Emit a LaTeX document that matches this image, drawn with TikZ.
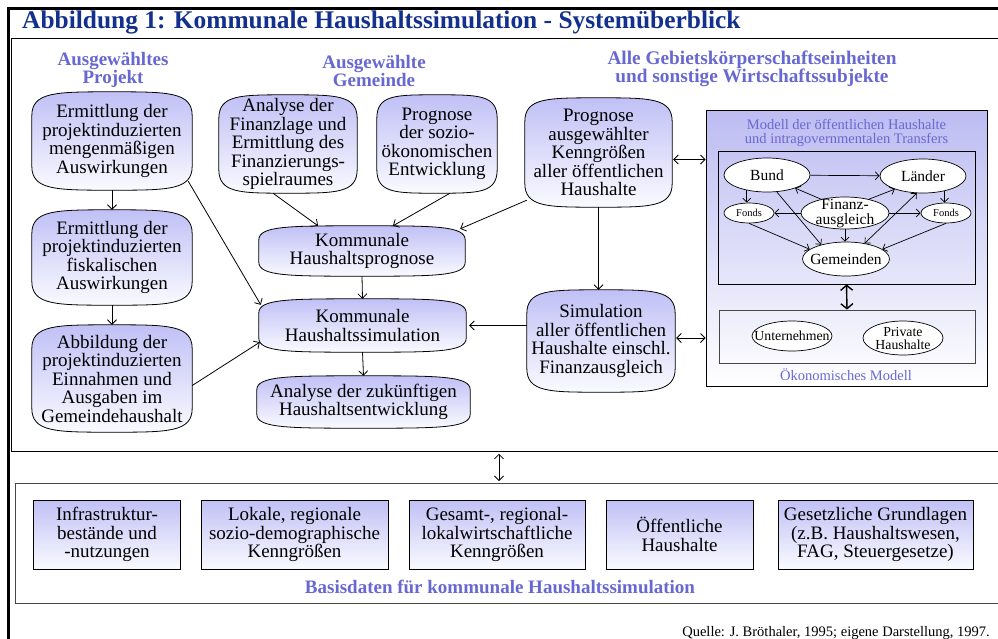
\documentclass[tikz,border=0pt]{standalone}
\usepackage{fontspec}
\setmainfont{Liberation Serif}
\usetikzlibrary{arrows.meta,shapes.geometric,calc}
\pgfdeclarelayer{background}
\pgfdeclarelayer{paper}
\pgfsetlayers{paper,background,main}
\definecolor{titleblue}{RGB}{18,48,140}
\definecolor{headblue}{RGB}{104,104,210}
\definecolor{nodetop}{RGB}{192,192,246}
\definecolor{nodebot}{RGB}{250,250,255}
\definecolor{modeltop}{RGB}{188,188,242}
\definecolor{framegrey}{RGB}{70,70,70}
\newcommand\fsz[2]{\fontsize{#1}{#2}\selectfont}
\newcommand\tapebg[2][24]{%
  \begin{pgfonlayer}{background}
  \path[tapefill] let \p1=(#2.north west), \p2=(#2.south east) in
   (\x1,\y1-#1pt) .. controls (\x1,\y1) and (0.85*\x1+0.15*\x2,\y1) .. (0.5*\x1+0.5*\x2,\y1)
   .. controls (0.15*\x1+0.85*\x2,\y1) and (\x2,\y1) .. (\x2,\y1-#1pt)
   -- (\x2,\y2+#1pt) .. controls (\x2,\y2) and (0.15*\x1+0.85*\x2,\y2) .. (0.5*\x1+0.5*\x2,\y2)
   .. controls (0.85*\x1+0.15*\x2,\y2) and (\x1,\y2) .. (\x1,\y2+#1pt) -- cycle;
  \end{pgfonlayer}}
\begin{document}
\begin{tikzpicture}[x=1pt,y=-1pt,
  txt/.style={inner sep=0pt, align=center},
  tape/.style={inner sep=0pt, align=center, font=\fsz{19}{18.5}},
  tapefill/.style={draw, line width=0.8pt, top color=nodetop, bottom color=nodebot},
  rbox/.style={draw, line width=0.8pt, top color=nodetop, bottom color=nodebot, inner sep=0pt, align=center, font=\fsz{19}{18.5}},
  ell/.style={draw, ellipse, fill=white, inner sep=0pt, line width=0.7pt},
  arr/.style={-{Straight Barb[length=4.5pt,width=9pt]}, line width=0.8pt},
  darr/.style={{Straight Barb[length=4.5pt,width=9pt]}-{Straight Barb[length=4.5pt,width=9pt]}, line width=0.8pt},
  sarr/.style={-{Straight Barb[length=4pt,width=8pt]}, line width=0.7pt},
  sdarr/.style={{Straight Barb[length=4pt,width=8pt]}-{Straight Barb[length=4pt,width=8pt]}, line width=0.7pt}]
\begin{pgfonlayer}{paper}
\fill[white] (0,0) rectangle (998,638);
\end{pgfonlayer}
\useasboundingbox (0,0) rectangle (998,638);

% frames
\node[draw=black, line width=1.3pt, minimum width=1000pt, minimum height=413pt, anchor=north west, inner sep=0pt] (frame) at (11,37.5) {};
\node[draw=framegrey, line width=1.3pt, minimum width=1000pt, minimum height=120pt, anchor=north west, inner sep=0pt] (basis) at (15,483) {};
\draw[line width=3pt] (8,645) -- (8,8) -- (1005,8);

% title and headings
\node[anchor=base west, inner sep=0pt, font=\fsz{25.4}{25}\bfseries, text=titleblue] (title) at (22,28) {Abbildung 1: Kommunale Haushaltssimulation - Systemüberblick};
\node[txt, font=\fsz{19}{18}\bfseries, text=headblue] (hP) at (113,69.5) {Ausgewähltes\\Projekt};
\node[txt, font=\fsz{19}{18}\bfseries, text=headblue] (hG) at (374,70.5) {Ausgewählte\\Gemeinde};
\node[txt, font=\fsz{19.3}{18}\bfseries, text=headblue] (hA) at (752,69) {Alle Gebietskörperschaftseinheiten\\und sonstige Wirtschaftssubjekte};

% left column
\node[tape, minimum width=160pt, minimum height=98pt] (A1) at (112,141) {Ermittlung der\\projektinduzierten\\mengenmäßigen\\Auswirkungen};
\node[tape, minimum width=160pt, minimum height=95pt] (A2) at (112,257.5) {Ermittlung der\\projektinduzierten\\fiskalischen\\Auswirkungen};
\node[tape, minimum width=160pt, minimum height=107pt] (A3) at (112,378.5) {Abbildung der\\projektinduzierten\\Einnahmen und\\Ausgaben im\\Gemeindehaushalt};
% middle
\node[tape, minimum width=138pt, minimum height=98pt] (B1) at (288,144) {Analyse der\\Finanzlage und\\Ermittlung des\\Finanzierungs-\\spielraumes};
\node[tape, minimum width=120pt, minimum height=98pt] (B2) at (437,144) {Prognose\\der sozio-\\ökonomischen\\Entwicklung};
\node[tape, minimum width=206pt, minimum height=50pt] (K1) at (362,251) {Kommunale\\Haushaltsprognose};
\node[tape, minimum width=207pt, minimum height=53pt] (K2) at (362.5,325.5) {Kommunale\\Haushaltssimulation};
\node[tape, minimum width=213pt, minimum height=52pt] (K3) at (363.5,402) {Analyse der zukünftigen\\Haushaltsentwicklung};
% right
\node[tape, minimum width=147pt, minimum height=109pt] (C1) at (598.5,152.5) {Prognose\\ausgewählter\\Kenngrößen\\aller öffentlichen\\Haushalte};
\node[tape, minimum width=148pt, minimum height=102pt] (C2) at (601,341) {Simulation\\aller öffentlichen\\Haushalte einschl.\\Finanzausgleich};

\tapebg{A1}\tapebg{A2}\tapebg{A3}\tapebg{B1}\tapebg{B2}\tapebg{C1}\tapebg{C2}
\tapebg[14]{K1}\tapebg[14]{K2}\tapebg[14]{K3}

% model box
\node[draw, line width=0.9pt, top color=modeltop, bottom color=white, minimum width=281pt, minimum height=276pt, inner sep=0pt] (model) at (846.5,248) {};
\node[txt, font=\fsz{14.5}{14.5}, text=headblue] (mtitle) at (846.5,133) {Modell der öffentlichen Haushalte\\und intragovernmentalen Transfers};
\node[draw, line width=0.8pt, minimum width=257pt, minimum height=133pt, inner sep=0pt] (gov) at (846.5,217.5) {};
\node[draw=framegrey, line width=0.8pt, minimum width=256pt, minimum height=53pt, inner sep=0pt] (eco) at (847,336.5) {};
\node[txt, font=\fsz{14.5}{14.5}, text=headblue] (etitle) at (846,375) {Ökonomisches Modell};

\node[ell, minimum width=86pt, minimum height=34pt] (Bund) at (767,175) {};
\node[txt, font=\fsz{15.5}{15}] (Bundt) at (Bund) {Bund};
\node[ell, minimum width=86pt, minimum height=34pt] (Laender) at (923,176) {};
\node[txt, font=\fsz{15.5}{15}] (Laendert) at (Laender) {Länder};
\node[ell, minimum width=50pt, minimum height=20pt] (FondsL) at (749,213) {};
\node[txt, font=\fsz{10.5}{10}] (FondsLt) at (FondsL) {Fonds};
\node[ell, minimum width=50pt, minimum height=20pt] (FondsR) at (946,213) {};
\node[txt, font=\fsz{10.5}{10}] (FondsRt) at (FondsR) {Fonds};
\node[ell, minimum width=88pt, minimum height=32pt] (FA) at (845,213) {};
\node[txt, font=\fsz{15.5}{15}] (FAt) at (845,214) {Finanz-\\ausgleich};
\node[ell, minimum width=87pt, minimum height=34pt] (Gem) at (846,259) {};
\node[txt, font=\fsz{15.5}{15}] (Gemt) at (Gem) {Gemeinden};
\node[ell, minimum width=80pt, minimum height=30pt] (Unt) at (792,336) {};
\node[txt, font=\fsz{13.8}{13}] (Untt) at (Unt) {Unternehmen};
\node[ell, minimum width=80pt, minimum height=34pt] (Priv) at (903,338) {};
\node[txt, font=\fsz{13.8}{13}] (Privt) at (Priv) {Private\\Haushalte};

% model arrows
\draw[sarr] (Bund) -- (Laender);
\draw[sarr] (Bund.-143) -- (Bund.-143 |- FondsL.north);
\draw[sarr] (Laender.-35) -- (Laender.-35 |- FondsR.north);
\draw[sarr] (Bund.-60) -- (Gem.150);
\draw[sarr] (FondsL.south) -- (Gem.165);
\draw[sarr] (FondsR.south) -- (Gem.15);
\draw[sarr] (FA.150) -- (Bund.-25);
\draw[sarr] (FA.30) -- (Laender.-155);
\draw[sarr] (FA.west) -- (FondsL.east);
\draw[sarr] (FA.east) -- (FondsR.west);
\draw[sarr] (FA.south) -- (FA.south |- Gem.north);
\draw[sdarr] (Laender.-110) -- (Gem.40);
\draw[{Straight Barb[length=5pt,width=12pt]}-{Straight Barb[length=5pt,width=12pt]}, line width=1.4pt] (gov.south) -- (eco.north);

% bottom boxes
\node[rbox, minimum width=147pt, minimum height=69pt] (D1) at (107,534.5) {Infrastruktur-\\bestände und\\-nutzungen};
\node[rbox, minimum width=187pt, minimum height=69pt] (D2) at (294.5,534.5) {Lokale, regionale\\sozio-demographische\\Kenngrößen};
\node[rbox, minimum width=176pt, minimum height=69pt] (D3) at (497,534.5) {Gesamt-, regional-\\lokalwirtschaftliche\\Kenngrößen};
\node[rbox, minimum width=147pt, minimum height=69pt] (D4) at (679.5,534.5) {Öffentliche\\Haushalte};
\node[rbox, minimum width=195pt, minimum height=69pt] (D5) at (875.5,534.5) {Gesetzliche Grundlagen\\(z.B. Haushaltswesen,\\FAG, Steuergesetze)};
\node[txt, font=\fsz{19}{19}\bfseries, text=headblue] (btitle) at (500,587) {Basisdaten für kommunale Haushaltssimulation};
\node[anchor=base east, inner sep=0pt, font=\fsz{14.5}{14.5}] (src) at (990,636) {Quelle: J. Bröthaler, 1995; eigene Darstellung, 1997.};

% main arrows
\draw[arr] (A1.south) -- (A2.north);
\draw[arr] (A2.south) -- (A3.north);
\draw[arr] ($(A1.south east)+(-4,-9)$) -- ($(K2.north west)+(2,6)$);
\draw[arr] ($(A3.east)+(0,7)$) -- ($(K2.south west)+(1,-10)$);
\draw[arr] ($(B1.south)+(-15,0)$) -- ($(K1.north)+(-44,0)$);
\draw[arr] ($(B2.south)+(13,0)$) -- ($(K1.north)+(31,0)$);
\draw[arr] ($(C1.south west)+(2,-7)$) -- ($(K1.north east)+(-5,3)$);
\draw[arr] (K1.south) -- (K2.north);
\draw[arr] (K2.south) -- (K3.north);
\draw[arr] (C1.south) -- (C1.south |- C2.north);
\draw[arr, shorten >=3pt] (C2.west |- K2.east) -- (K2.east);
\coordinate (c1r) at ($(C1.east)+(0,7)$);
\coordinate (c2r) at ($(C2.east)+(0,-3)$);
\draw[darr, shorten <=1pt] (c1r) -- (c1r -| model.west);
\draw[darr, shorten <=1pt] (c2r) -- (c2r -| model.west);
\draw[darr, shorten <=2pt, shorten >=2pt] (frame.south -| 499,0) -- (basis.north -| 499,0);
\end{tikzpicture}
\end{document}
